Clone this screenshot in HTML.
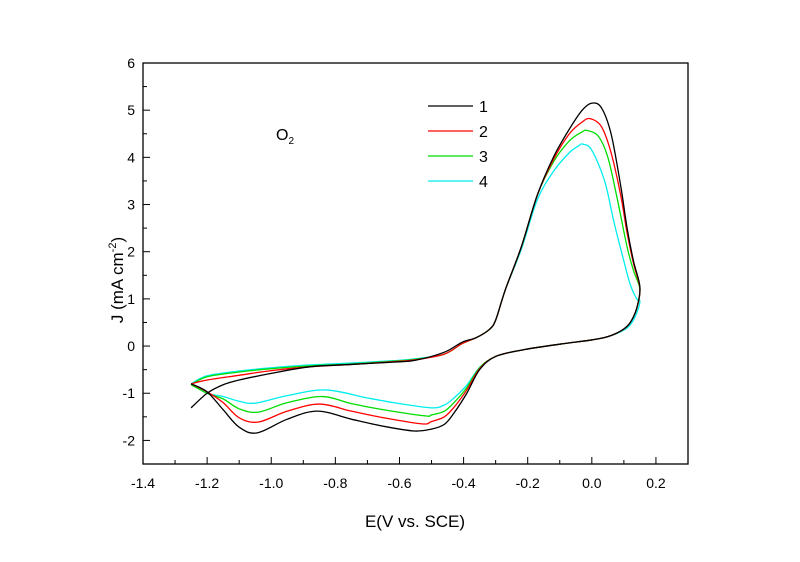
<!DOCTYPE html>
<html><head><meta charset="utf-8"><style>
body{margin:0;background:#fff}
svg text{font-family:"Liberation Sans",Arial,sans-serif;fill:#000}
</style></head><body>
<svg width="800" height="557" viewBox="0 0 800 557">
<g id="axes"></g><g id="series"></g>
<g>
<line x1="428" y1="106" x2="473" y2="106" stroke="#000" stroke-width="1.3"/><text x="479" y="112" font-size="16">1</text>
<line x1="428" y1="131" x2="473" y2="131" stroke="#f00" stroke-width="1.3"/><text x="479" y="137" font-size="16">2</text>
<line x1="428" y1="156" x2="473" y2="156" stroke="#0d0" stroke-width="1.3"/><text x="479" y="162" font-size="16">3</text>
<line x1="428" y1="181" x2="473" y2="181" stroke="#0ee" stroke-width="1.3"/><text x="479" y="187" font-size="16">4</text>
</g>
<text x="276" y="140" font-size="16">O<tspan font-size="10" dy="4">2</tspan></text>
<text x="415" y="527" font-size="17" text-anchor="middle">E(V vs. SCE)</text>
<text transform="translate(123,280) rotate(-90)" font-size="17" text-anchor="middle">J (mA cm<tspan font-size="11" dy="-7">-2</tspan><tspan dy="7">)</tspan></text>
</svg>
<script>
const xTicks=[-1.4,-1.2,-1.0,-0.8,-0.6,-0.4,-0.2,0.0,0.2];
const yTicks=[-2,-1,0,1,2,3,4,5,6];
const seriesNames=["1","2","3","4"];
const seriesColors=["#000","#f00","#0d0","#0ee"];
const s1x=[-1.25,-1.2,-1.15,-1.1,-1.0,-0.88,-0.75,-0.62,-0.55,-0.46,-0.405,-0.36,-0.32,-0.3,-0.27,-0.22,-0.17,-0.12,-0.07,-0.03,0.0,0.03,0.06,0.09,0.11,0.13,0.15,0.14,0.12,0.095,0.05,0.0,-0.1,-0.215,-0.3,-0.35,-0.39,-0.43,-0.46,-0.5,-0.555,-0.65,-0.75,-0.856,-0.95,-1.044,-1.1,-1.15,-1.2,-1.25];
const s1y=[-1.31,-1.0,-0.82,-0.72,-0.58,-0.44,-0.39,-0.34,-0.3,-0.13,0.08,0.18,0.35,0.55,1.19,2.1,3.2,4.0,4.6,5.0,5.15,5.05,4.5,3.4,2.5,1.8,1.25,0.8,0.5,0.34,0.2,0.13,0.04,-0.08,-0.22,-0.5,-1.0,-1.42,-1.66,-1.76,-1.8,-1.7,-1.55,-1.38,-1.55,-1.84,-1.72,-1.35,-0.97,-0.8];
const s2x=[-1.25,-1.2,-1.1,-1.0,-0.88,-0.75,-0.62,-0.55,-0.46,-0.405,-0.36,-0.32,-0.3,-0.27,-0.22,-0.17,-0.12,-0.07,-0.03,-0.005,0.03,0.06,0.09,0.11,0.13,0.15,0.14,0.12,0.095,0.05,0.0,-0.1,-0.215,-0.3,-0.35,-0.39,-0.43,-0.46,-0.5,-0.53,-0.65,-0.75,-0.85,-0.95,-1.04,-1.1,-1.15,-1.2,-1.25];
const s2y=[-0.8,-0.72,-0.62,-0.52,-0.44,-0.39,-0.33,-0.29,-0.17,0.05,0.18,0.35,0.55,1.19,2.1,3.2,3.95,4.5,4.75,4.82,4.65,4.1,3.2,2.4,1.75,1.22,0.8,0.5,0.34,0.2,0.13,0.04,-0.08,-0.22,-0.48,-0.93,-1.3,-1.5,-1.6,-1.65,-1.52,-1.38,-1.23,-1.38,-1.61,-1.52,-1.2,-0.97,-0.8];
const s3x=[-1.25,-1.2,-1.1,-1.0,-0.88,-0.75,-0.62,-0.55,-0.46,-0.405,-0.36,-0.32,-0.3,-0.27,-0.22,-0.17,-0.12,-0.07,-0.03,-0.015,0.02,0.05,0.08,0.11,0.13,0.15,0.14,0.12,0.095,0.05,0.0,-0.1,-0.215,-0.3,-0.35,-0.39,-0.43,-0.46,-0.5,-0.52,-0.65,-0.75,-0.84,-0.95,-1.04,-1.1,-1.15,-1.2,-1.25];
const s3y=[-0.82,-0.65,-0.55,-0.48,-0.42,-0.38,-0.32,-0.28,-0.17,0.05,0.18,0.35,0.55,1.19,2.1,3.2,3.9,4.35,4.54,4.57,4.45,4.0,3.1,2.1,1.6,1.2,0.8,0.5,0.34,0.2,0.13,0.04,-0.08,-0.22,-0.46,-0.88,-1.2,-1.38,-1.46,-1.48,-1.35,-1.22,-1.07,-1.2,-1.4,-1.33,-1.12,-1.0,-0.82];
const s4x=[-1.25,-1.2,-1.1,-1.0,-0.88,-0.75,-0.62,-0.55,-0.46,-0.405,-0.36,-0.32,-0.3,-0.27,-0.22,-0.17,-0.12,-0.07,-0.04,-0.028,0.0,0.04,0.07,0.1,0.12,0.14,0.15,0.14,0.12,0.095,0.05,0.0,-0.1,-0.215,-0.3,-0.35,-0.39,-0.43,-0.46,-0.5,-0.6,-0.7,-0.83,-0.95,-1.05,-1.1,-1.15,-1.2,-1.25];
const s4y=[-0.8,-0.63,-0.53,-0.46,-0.4,-0.36,-0.31,-0.27,-0.17,0.05,0.18,0.35,0.55,1.19,2.05,3.1,3.7,4.1,4.25,4.28,4.15,3.5,2.6,1.8,1.3,1.0,0.95,0.7,0.45,0.32,0.2,0.13,0.04,-0.08,-0.22,-0.45,-0.83,-1.1,-1.25,-1.31,-1.22,-1.1,-0.93,-1.05,-1.21,-1.17,-1.07,-1.0,-0.8];
const allX=[s1x,s2x,s3x,s4x], allY=[s1y,s2y,s3y,s4y];
const NS="http://www.w3.org/2000/svg";
const L=143,R=688,T=63,B=464,xmin=-1.4,xmax=0.3,ymin=-2.5,ymax=6;
const sx=v=>L+(v-xmin)/(xmax-xmin)*(R-L);
const sy=v=>B-(v-ymin)/(ymax-ymin)*(B-T);
function mk(t,a,p){const e=document.createElementNS(NS,t);for(const k in a)e.setAttribute(k,a[k]);p.appendChild(e);return e;}
const ax=document.getElementById('axes');
const frame=mk('rect',{x:L,y:T,width:R-L,height:B-T,fill:'none',stroke:'#000','stroke-width':1.3},ax);


for(let i=0;i<=17;i++){const v=xmin+i*0.1;const x=sx(v);const len=i%2==0?7:4;
 mk('line',{x1:x,y1:B,x2:x,y2:B-len,stroke:'#000','stroke-width':1},ax);}
xTicks.forEach(v=>{const t=mk('text',{x:sx(v),y:B+24,'font-size':14,'text-anchor':'middle'},ax);t.textContent=v.toFixed(1);
 
 });
for(let i=0;i<=17;i++){const v=ymin+i*0.5;const y=sy(v);const len=i%2==1?7:4;
 mk('line',{x1:L,y1:y,x2:L+len,y2:y,stroke:'#000','stroke-width':1},ax);}
yTicks.forEach(v=>{const t=mk('text',{x:L-8,y:sy(v)+5,'font-size':14,'text-anchor':'end'},ax);t.textContent=v;
 
 });
const sg=document.getElementById('series');
function smooth(pts){let d=`M${pts[0][0]},${pts[0][1]}`;
 for(let i=0;i<pts.length-1;i++){const p0=pts[Math.max(0,i-1)],p1=pts[i],p2=pts[i+1],p3=pts[Math.min(pts.length-1,i+2)];
  d+=` C${p1[0]+(p2[0]-p0[0])/6},${p1[1]+(p2[1]-p0[1])/6} ${p2[0]-(p3[0]-p1[0])/6},${p2[1]-(p3[1]-p1[1])/6} ${p2[0]},${p2[1]}`;}
 return d;}
for(let s=3;s>=0;s--){const pts=allX[s].map((v,i)=>[sx(v),sy(allY[s][i])]);
 const p=mk('path',{d:smooth(pts),fill:'none',stroke:seriesColors[s],'stroke-width':1.3},sg);
 
 }
</script>
</body></html>
